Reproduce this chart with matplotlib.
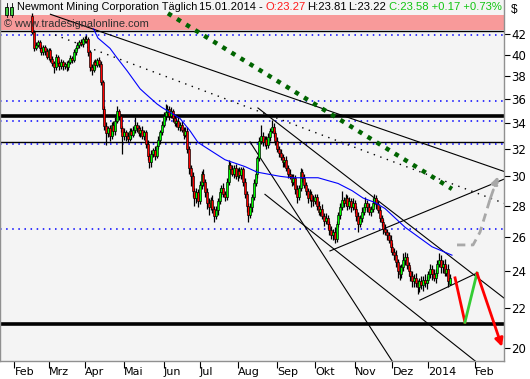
import numpy as np
import matplotlib
matplotlib.use("Agg")
import matplotlib.pyplot as plt
from matplotlib.patches import Rectangle

# ---------------- data ----------------
# daily candles, first visible bar has index 18 (bar 0 ~ 22.01.2013)
first_bar = 18
first_open = 43.8
last_open = 23.27

closes = [
    42.2, 40.6, 40.9, 41.2, 40.6, 40.2, 40.7, 40.3, 39.8, 40.4,
    39.6, 39.2, 38.8, 39.8, 39.2, 38.9, 39.3, 38.9, 39.1, 38.8,
    39.3, 39.7, 39.5, 40.2, 40.6, 40.9, 41.2, 41.0, 41.5, 41.3,
    41.5, 40.2, 38.8, 38.6, 39.3, 39.0, 39.5, 39.1, 37.5, 35.2,
    33.8, 33.2, 33.6, 33.0, 33.9, 33.4, 34.2, 35.0, 34.6, 33.6,
    33.0, 33.3, 33.0, 32.8, 33.4, 33.1, 33.5, 33.9, 33.6, 33.2,
    33.5, 33.0, 33.3, 32.4, 31.5, 31.0, 31.6, 31.9, 31.5, 32.2,
    32.7, 33.3, 33.9, 34.6, 34.9, 35.2, 34.6, 35.0, 34.4, 34.0,
    34.2, 33.7, 33.9, 33.5, 33.1, 33.4, 32.0, 30.6, 30.0, 29.0,
    28.5, 28.9, 28.3, 29.4, 30.2, 29.6, 28.9, 28.2, 27.9, 28.4,
    27.8, 27.3, 27.7, 28.3, 28.9, 29.2, 28.8, 28.6, 29.6, 30.8,
    30.5, 30.2, 30.6, 30.0, 30.4, 30.1, 30.5, 29.6, 28.8, 28.0,
    27.4, 27.9, 28.6, 29.5, 30.2, 31.3, 32.6, 33.0, 32.5, 32.8,
    32.3, 32.9, 33.4, 33.7, 33.2, 32.6, 32.0, 31.7, 31.4, 31.0,
    31.2, 30.6, 30.2, 30.0, 29.6, 29.9, 29.1, 28.6, 29.2, 30.3,
    29.9, 29.4, 29.0, 28.5, 28.8, 28.4, 28.3, 28.6, 28.0, 27.6,
    27.8, 27.3, 27.0, 27.2, 26.8, 26.4, 26.1, 26.3, 25.9, 26.8,
    27.4, 27.9, 28.4, 28.2, 28.5, 28.0, 28.3, 27.9, 28.2, 27.8,
    27.3, 26.8, 27.2, 27.6, 27.9, 28.2, 27.9, 27.6, 27.8, 28.2,
    28.5, 28.1, 27.7, 27.2, 26.9, 26.5, 26.3, 26.1, 25.8, 25.4,
    25.1, 24.9, 24.5, 24.0, 23.8, 24.2, 24.6, 24.8, 24.3, 24.0,
    23.7, 23.4, 23.6, 23.3, 23.1, 23.4, 23.2, 23.5, 23.3, 23.5,
    23.8, 24.1, 23.8, 23.6, 23.9, 24.4, 24.6, 24.2, 24.4, 23.9,
    24.1, 23.41, 23.58,
]

# wicks in tenths of a dollar above / below the body
wick_up = [
    3, 2, 3, 2, 2, 3, 2, 2, 3, 2,
    2, 3, 2, 3, 2, 2, 3, 2, 2, 3,
    2, 3, 2, 3, 2, 3, 2, 3, 2, 3,
    4, 2, 2, 3, 2, 3, 2, 3, 3, 2,
    2, 3, 2, 3, 2, 3, 3, 4, 2, 2,
    2, 3, 2, 3, 2, 2, 3, 6, 2, 3,
    2, 3, 2, 2, 3, 2, 3, 2, 3, 2,
    3, 2, 3, 3, 7, 3, 2, 3, 2, 3,
    2, 3, 2, 3, 2, 3, 3, 2, 2, 3,
    2, 3, 2, 3, 2, 3, 2, 3, 3, 2,
    3, 2, 3, 2, 3, 2, 3, 2, 3, 4,
    2, 3, 2, 3, 2, 3, 2, 2, 3, 2,
    2, 3, 2, 3, 3, 2, 3, 9, 3, 2,
    2, 3, 2, 6, 3, 2, 3, 2, 3, 2,
    2, 3, 2, 3, 2, 3, 2, 3, 2, 3,
    2, 3, 2, 2, 3, 2, 3, 2, 2, 3,
    2, 3, 2, 3, 2, 2, 3, 2, 3, 2,
    2, 3, 6, 2, 3, 2, 3, 2, 3, 2,
    2, 3, 2, 3, 2, 4, 2, 3, 2, 3,
    3, 2, 2, 3, 2, 2, 3, 2, 2, 3,
    2, 2, 3, 2, 3, 2, 4, 3, 2, 2,
    2, 3, 2, 3, 2, 2, 3, 2, 3, 2,
    2, 3, 2, 3, 2, 2, 4, 3, 2, 3,
    2, 3, 2.3,
]
wick_dn = [
    2, 3, 2, 2, 3, 2, 2, 3, 2, 3,
    3, 3, 5, 2, 3, 3, 2, 3, 2, 3,
    2, 2, 3, 2, 2, 2, 3, 2, 3, 2,
    2, 3, 3, 5, 2, 3, 2, 3, 3, 4,
    3, 9, 3, 4, 2, 3, 3, 2, 3, 3,
    14, 3, 4, 3, 2, 3, 2, 3, 3, 2,
    3, 2, 3, 3, 3, 4, 3, 2, 3, 2,
    2, 3, 2, 2, 3, 2, 3, 2, 3, 2,
    3, 2, 3, 2, 3, 2, 3, 4, 7, 4,
    5, 3, 4, 2, 3, 3, 3, 4, 5, 2,
    3, 4, 2, 3, 2, 3, 2, 3, 2, 2,
    3, 2, 3, 2, 3, 2, 3, 3, 3, 4,
    5, 2, 3, 2, 2, 3, 2, 2, 3, 3,
    3, 2, 3, 2, 3, 3, 2, 3, 2, 3,
    3, 2, 3, 2, 3, 2, 3, 4, 2, 2,
    3, 2, 3, 3, 2, 5, 3, 2, 3, 2,
    3, 2, 3, 2, 3, 3, 2, 3, 3, 2,
    2, 3, 2, 3, 2, 3, 2, 3, 2, 3,
    3, 5, 2, 3, 2, 2, 3, 2, 3, 2,
    2, 3, 2, 3, 2, 3, 2, 3, 2, 3,
    2, 3, 3, 4, 3, 2, 2, 3, 2, 3,
    3, 3, 3, 2, 4, 3, 2, 3, 2, 3,
    2, 2, 3, 2, 3, 2, 2, 3, 3, 2,
    2, 3, 0.5,
]

# moving average (bar, price)
ma_bar = [52, 54.4, 61.1, 65, 70.6, 77.8, 80.6, 87.2, 90, 95.6, 100, 105.6, 110,
          125, 136.1, 142.8, 155.6, 162.2, 176.7, 182.2, 187.8, 195.6, 201.7,
          208.3, 213.9, 225, 240, 251.1]
ma_val = [42.5, 41.6, 40.6, 39.7, 38.5, 36.9, 36.5, 35.6, 35.3, 34.8, 34.4, 33.4, 32.5,
          31.2, 30.7, 30.3, 30.0, 29.9, 29.9, 29.7, 29.5, 29.0, 28.5,
          28.2, 27.8, 26.6, 25.4, 24.9]

month_pos = [8, 27, 47, 69, 91, 111, 132, 154, 175, 197, 218, 238, 264]
month_labels = ["Feb", "Mrz", "Apr", "Mai", "Jun", "Jul", "Aug", "Sep", "Okt",
                "Nov", "Dez", "2014", "Feb"]
price_ticks = list(range(20, 43, 2))

# horizontal levels: (price, linewidth)
levels_solid = [(42.3, 1.0), (34.6, 2.6), (32.54, 1.0), (21.16, 2.6)]
levels_dotted = [41.85, 35.85, 34.19, 32.39, 26.5]

# trend lines ((bar, price), (bar, price))
trend_solid = [
    ((28, 44.0), (280, 30.35)),
    ((143.3, 35.26), (280, 22.5)),
    ((138.9, 32.54), (225, 18.5)),
    ((147.2, 28.75), (270, 19.0)),
    ((183.3, 25.15), (280, 29.8)),
    ((233.3, 22.39), (265, 23.87)),
]
trend_dotted = ((30.6, 41.9), (280, 28.15))
trend_green = ((93.3, 44.1), (251.1, 29.12))

# projected path
zig_bar = [252.8, 258.3, 265, 278.9]
zig_val = [23.6, 21.25, 23.87, 20.05]
gray_bar = [253.9, 262.8, 266.7, 272.2, 276.7]
gray_val = [25.51, 25.51, 26.3, 28.4, 30.0]

# ---------------- figure ----------------
W, H = 530, 379
AX_W, AX_H = 504, 361
fig = plt.figure(figsize=(W / 100, H / 100), dpi=100, facecolor="white")
ax = fig.add_axes([0, (H - AX_H) / H, AX_W / W, AX_H / H])
ax.set_facecolor("#f4f4f4")
ax.set_yscale("log")
ax.set_xlim(0, 280)
ax.set_ylim(19.39, 45.51)


def px(x, y):
    # pixel position inside the axes -> axes fraction
    return x / AX_W, 1 - y / AX_H


# header band
ax.axhspan(42.40, 43.93, color="#f89a9a", zorder=1, lw=0)

for p, lw in levels_solid:
    ax.axhline(p, color="black", lw=lw, zorder=2)
for p in levels_dotted:
    ax.axhline(p, color="#0000ff", lw=1.1, ls=(0, (1, 3)), zorder=2)

for (b0, p0), (b1, p1) in trend_solid:
    ax.plot([b0, b1], [p0, p1], color="black", lw=0.8, zorder=2)
ax.plot(*zip(*trend_dotted), color="black", lw=1.0, ls=(0, (1, 4)), zorder=2)
ax.plot(*zip(*trend_green), color="#006400", lw=3.2, ls=(0, (1, 1.4)), zorder=2)

ax.plot(ma_bar, ma_val, color="#0000ff", lw=0.8, zorder=5)

# candles
idx = np.arange(first_bar, first_bar + len(closes))
c = np.array(closes)
o = np.concatenate([[first_open], c[:-1]])
o[-1] = last_open
hi = np.maximum(o, c) + np.array(wick_up) / 10
lo = np.minimum(o, c) - np.array(wick_dn) / 10
cols = np.where(c >= o, "#00ff00", "#ff0000")
ax.vlines(idx, lo, hi, color="black", lw=0.9, zorder=3)
body = np.maximum(np.abs(c - o), 0.08)
ax.bar(idx, body, bottom=np.minimum(o, c), width=1.15, color=cols,
       edgecolor="black", lw=0.45, zorder=4)

# projection arrows
ax.plot(zig_bar[:2], zig_val[:2], color="#ff0000", lw=2, zorder=6)
ax.plot(zig_bar[1:3], zig_val[1:3], color="#33cc33", lw=2, zorder=6)
ax.annotate("", xy=(zig_bar[3], zig_val[3]), xytext=(zig_bar[2], zig_val[2]),
            arrowprops=dict(arrowstyle="-|>", color="#ff0000", lw=2,
                            mutation_scale=12, shrinkA=0, shrinkB=0), zorder=6)
ax.plot(gray_bar[:-1], gray_val[:-1], color="#a8a8a8", lw=2, ls=(0, (3, 2)), zorder=6)
ax.annotate("", xy=(gray_bar[-1], gray_val[-1]), xytext=(gray_bar[-2], gray_val[-2]),
            arrowprops=dict(arrowstyle="-|>", color="#a8a8a8", lw=2, ls="--",
                            mutation_scale=11, shrinkA=0, shrinkB=0), zorder=6)

# axes
for s in ["left", "bottom", "right"]:
    ax.spines[s].set_color("#909090")
    ax.spines[s].set_linewidth(1)
ax.spines["top"].set_visible(False)

ax.yaxis.tick_right()
ax.set_yticks(price_ticks)
ax.set_yticklabels([str(t) for t in price_ticks])
ax.yaxis.set_minor_locator(plt.NullLocator())
ax.tick_params(axis="y", direction="out", length=4, width=0.8, pad=1,
               labelsize=8.5, colors="black")
ax.set_xticks(month_pos)
ax.set_xticklabels(month_labels)
ax.tick_params(axis="x", direction="out", length=5, width=0.8, pad=-1,
               labelsize=8)
for lab in ax.get_xticklabels():
    lab.set_horizontalalignment("left")

font = "Liberation Sans"
fig.text((AX_W + 7) / W, 1 - 10 / H, "$", fontsize=8.5, family=font, va="center")

# header texts: (x px, text, colour, size)
title_parts = [
    (17, "Newmont Mining Corporation Täglich", "black", 7.8),
    (199, "15.01.2014 -", "black", 8.1),
    (265, "O:23.27", "#ff1a1a", 8.1),
    (307, "H:23.81", "black", 8.1),
    (348, "L:23.22", "black", 8.1),
    (389, "C:23.58 +0.17 +0.73%", "#11c511", 8.1),
]
for x, s, col, fs in title_parts:
    ax.text(*px(x, 7.5), s, transform=ax.transAxes, fontsize=fs, family=font,
            color=col, va="center", ha="left", zorder=8)
ax.text(*px(4, 24), "© www.tradesignalonline.com", transform=ax.transAxes,
        fontsize=7.9, family=font, color="#303030", va="center", ha="left", zorder=8)

# small candle icon in the corner
for x0 in (5, 10):
    ax.add_patch(Rectangle(px(x0, 15), 3 / AX_W, 8 / AX_H, transform=ax.transAxes,
                           facecolor="#40d040", edgecolor="black", lw=0.6, zorder=8))
    ax.plot([(x0 + 1.5) / AX_W] * 2, [1 - 3 / AX_H, 1 - 17 / AX_H],
            transform=ax.transAxes, color="black", lw=0.6, zorder=7)

fig.savefig("out.png", dpi=100, facecolor="white")
